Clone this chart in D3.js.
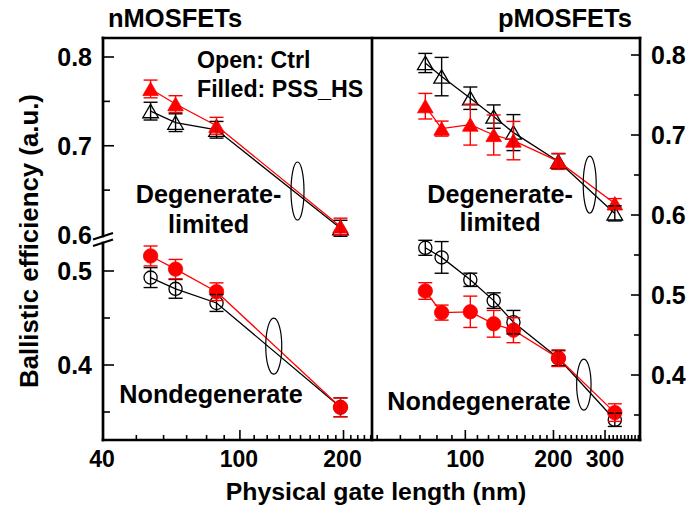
<!DOCTYPE html>
<html>
<head>
<meta charset="utf-8">
<script src="https://cdn.jsdelivr.net/npm/d3@7"></script>
<style>
  html, body { margin: 0; padding: 0; background: #fff; }
  svg { display: block; }
  text { font-family: "Liberation Sans", Arial, sans-serif; font-weight: bold; fill: #000; }
</style>
</head>
<body>
<svg id="chart" width="689" height="511"></svg>
<script>
// ---- nMOSFET data (gate length in nm, ballistic efficiency in a.u.) ----
const nGate = [55, 65, 85.5, 196];
const nTriCtrl = [0.739, 0.726, 0.718, 0.607];
const nTriCtrlErr = [0.010, 0.010, 0.0094, 0.009];
const nTriPss = [0.764, 0.747, 0.7225, 0.609];
const nTriPssErr = [0.010, 0.0094, 0.0095, 0.0094];
const nCirCtrl = [0.493, 0.481, 0.466, 0.355];
const nCirCtrlErr = [0.0106, 0.010, 0.009, 0.010];
const nCirPss = [0.516, 0.502, 0.478, 0.355];
const nCirPssErr = [0.0106, 0.0103, 0.0094, 0.0101];

// ---- pMOSFET data ----
const pGate = [73, 83, 104, 125, 146, 208, 324];
const pTriCtrl = [0.790, 0.773, 0.746, 0.723, 0.703, 0.667, 0.602];
const pTriCtrlErr = [0.012, 0.024, 0.014, 0.0146, 0.0225, 0.0096, 0.0094];
const pTriPss = [0.736, 0.708, 0.713, 0.700, 0.693, 0.667, 0.6145];
const pTriPssErr = [0.016, 0.0094, 0.0256, 0.025, 0.024, 0.010, 0.006];
const pCirCtrl = [0.559, 0.547, 0.519, 0.493, 0.466, 0.421, 0.344];
const pCirCtrlErr = [0.0094, 0.0198, 0.0083, 0.0097, 0.0147, 0.0094, 0.0083];
const pCirPss = [0.505, 0.478, 0.479, 0.464, 0.456, 0.421, 0.353];
const pCirPssErr = [0.0104, 0.0094, 0.0196, 0.0167, 0.0156, 0.0104, 0.011];

// ---- tick labels ----
const nXTickLabels = [40, 100, 200];
const pXTickLabels = [100, 200, 300];
const nYUpperLabels = [0.6, 0.7, 0.8];
const nYLowerLabels = [0.4, 0.5];
const pYLabels = [0.4, 0.5, 0.6, 0.7, 0.8];

const RED = "#ff0000";
const svg = d3.select("#chart");

// plot frame geometry
const frameTop = 38, frameBottom = 440;
const xL0 = 103, xMid = 372, xR1 = 640;
const breakTop = 236, breakBot = 243;

// scales
const xN = d3.scaleLog().domain([40, 242]).range([xL0, xMid]);
const xP = d3.scaleLog().domain([48, 395]).range([xMid, xR1]);
const yNUp = d3.scaleLinear().domain([0.6, 0.8]).range([234.5, 57]);
const yNLow = d3.scaleLinear().domain([0.4, 0.5]).range([365, 271]);
const yP = d3.scaleLinear().domain([0.4, 0.8]).range([375, 55]);

// ---------- marker helpers ----------
const triPath = "M0,-6.8L7.8,6.6L-7.8,6.6Z";

function points(xs, ys, errs, xScale, yScale) {
  return xs.map((x, i) => ({ x: xScale(x), y: yScale(ys[i]), lo: yScale(ys[i] - errs[i]), hi: yScale(ys[i] + errs[i]) }));
}

// connecting line + symbols of one series
function drawMarkers(g, pts, color, shape, filled) {
  g.append("path")
    .attr("d", d3.line().x(d => d.x).y(d => d.y)(pts))
    .attr("fill", "none").attr("stroke", color).attr("stroke-width", 1.3);
  pts.forEach(p => {
    let m;
    if (shape === "tri") {
      m = g.append("path").attr("d", triPath).attr("transform", `translate(${p.x},${p.y})`);
    } else {
      m = g.append("circle").attr("cx", p.x).attr("cy", p.y).attr("r", filled ? 7.2 : 6.6);
    }
    if (filled) m.attr("fill", color).attr("stroke", color).attr("stroke-width", 0.8);
    else m.attr("fill", "none").attr("stroke", color).attr("stroke-width", 1.3);
  });
}

// vertical error bars with caps
function drawErrors(g, pts, color) {
  const eb = g.append("g").attr("stroke", color).attr("stroke-width", 1.4).attr("fill", "none");
  pts.forEach(p => {
    eb.append("line").attr("x1", p.x).attr("x2", p.x).attr("y1", p.lo).attr("y2", p.hi);
    eb.append("line").attr("x1", p.x - 7).attr("x2", p.x + 7).attr("y1", p.lo).attr("y2", p.lo);
    eb.append("line").attr("x1", p.x - 7).attr("x2", p.x + 7).attr("y1", p.hi).attr("y2", p.hi);
  });
}

function drawPanel(groups) {
  const g = svg.append("g");
  groups.forEach(s => drawMarkers(g, s.pts, "#000", s.shape, false, s));
  groups.forEach(s => drawMarkers(g, s.ptsR, RED, s.shape, true));
  groups.forEach(s => drawErrors(g, s.pts, "#000"));
  groups.forEach(s => drawErrors(g, s.ptsR, RED));
}

// ---------- data ----------
drawPanel([
  { shape: "tri", pts: points(nGate, nTriCtrl, nTriCtrlErr, xN, yNUp), ptsR: points(nGate, nTriPss, nTriPssErr, xN, yNUp) },
  { shape: "circ", pts: points(nGate, nCirCtrl, nCirCtrlErr, xN, yNLow), ptsR: points(nGate, nCirPss, nCirPssErr, xN, yNLow) }
]);
drawPanel([
  { shape: "tri", pts: points(pGate, pTriCtrl, pTriCtrlErr, xP, yP), ptsR: points(pGate, pTriPss, pTriPssErr, xP, yP) },
  { shape: "circ", pts: points(pGate, pCirCtrl, pCirCtrlErr, xP, yP), ptsR: points(pGate, pCirPss, pCirPssErr, xP, yP) }
]);

// ---------- grouping ellipses ----------
const ell = svg.append("g").attr("fill", "none").attr("stroke", "#000").attr("stroke-width", 1.2);
ell.append("ellipse").attr("cx", xN(147)).attr("cy", yNUp(0.649)).attr("rx", 6.5).attr("ry", 29);
ell.append("ellipse").attr("cx", xN(125.4)).attr("cy", yNLow(0.42)).attr("rx", 8).attr("ry", 28);
ell.append("ellipse").attr("cx", xP(266)).attr("cy", yP(0.638)).attr("rx", 6.5).attr("ry", 28.5);
ell.append("ellipse").attr("cx", xP(254)).attr("cy", yP(0.388)).attr("rx", 7.2).attr("ry", 25.5);

// ---------- frames and axes ----------
const frame = svg.append("g").attr("stroke", "#000").attr("stroke-width", 2.7).attr("fill", "none").attr("stroke-linecap", "square");
frame.append("line").attr("x1", xL0).attr("x2", xR1).attr("y1", frameTop).attr("y2", frameTop);
frame.append("line").attr("x1", xL0).attr("x2", xR1).attr("y1", frameBottom).attr("y2", frameBottom);
frame.append("line").attr("x1", xMid).attr("x2", xMid).attr("y1", frameTop).attr("y2", frameBottom);
frame.append("line").attr("x1", xR1).attr("x2", xR1).attr("y1", frameTop).attr("y2", frameBottom);
frame.append("line").attr("x1", xL0).attr("x2", xL0).attr("y1", frameTop).attr("y2", breakTop);
frame.append("line").attr("x1", xL0).attr("x2", xL0).attr("y1", breakBot).attr("y2", frameBottom);
// axis break marks
const brk = svg.append("g").attr("stroke", "#000").attr("stroke-width", 2.2);
brk.append("line").attr("x1", xL0 - 10).attr("y1", breakTop + 3.5).attr("x2", xL0 + 10).attr("y2", breakTop - 3);
brk.append("line").attr("x1", xL0 - 10).attr("y1", breakBot + 3).attr("x2", xL0 + 10).attr("y2", breakBot - 3.5);

// tick helpers
const ticks = svg.append("g").attr("stroke", "#000").attr("stroke-width", 1.6);
function xTicks(scale, lo, hi, majors) {
  for (let v = lo; v <= hi; v += 10) {
    const x = scale(v);
    if (x <= scale.range()[0] + 1 || x >= scale.range()[1] - 1) continue;
    const len = majors.includes(v) ? 10 : 5;
    ticks.append("line").attr("x1", x).attr("x2", x).attr("y1", frameBottom).attr("y2", frameBottom - len);
  }
}
xTicks(xN, 40, 240, [100, 200]);
xTicks(xP, 50, 390, [100, 200, 300]);

function yTicks(scale, vals, x0, dir, len) {
  vals.forEach(v => {
    const y = scale(v);
    ticks.append("line").attr("x1", x0).attr("x2", x0 + dir * len).attr("y1", y).attr("y2", y);
  });
}
yTicks(yNUp, [0.7, 0.8], xL0, 1, 11);
yTicks(yNUp, [0.65, 0.75], xL0, 1, 7);
yTicks(yNLow, [0.4, 0.5], xL0, 1, 11);
yTicks(yNLow, [0.35, 0.45], xL0, 1, 7);
yTicks(yP, [0.4, 0.5, 0.6, 0.7, 0.8], xR1, -1, 9);
yTicks(yP, [0.35, 0.45, 0.55, 0.65, 0.75], xR1, -1, 6);

// tick labels
const lab = svg.append("g");
const fmt = d3.format(".1f");
nYUpperLabels.forEach(v => lab.append("text").attr("x", 92).attr("y", yNUp(v)).attr("dy", "0.36em")
  .attr("text-anchor", "end").attr("font-size", 25).text(fmt(v)));
nYLowerLabels.forEach(v => lab.append("text").attr("x", 92).attr("y", yNLow(v)).attr("dy", "0.36em")
  .attr("text-anchor", "end").attr("font-size", 25).text(fmt(v)));
pYLabels.forEach(v => lab.append("text").attr("x", 651).attr("y", yP(v)).attr("dy", "0.36em")
  .attr("text-anchor", "start").attr("font-size", 25).text(fmt(v)));
nXTickLabels.forEach(v => lab.append("text").attr("x", xN(v) - 1).attr("y", 467)
  .attr("text-anchor", "middle").attr("font-size", 23).text(v));
pXTickLabels.forEach(v => lab.append("text").attr("x", xP(v)).attr("y", 467)
  .attr("text-anchor", "middle").attr("font-size", 23).text(v));

// titles and annotations
function txt(x, y, s, size, anchor) {
  return svg.append("text").attr("x", x).attr("y", y).attr("font-size", size)
    .attr("text-anchor", anchor || "start").text(s);
}
txt(108, 27, "nMOSFETs", 25.5);
txt(632, 27, "pMOSFETs", 25.5, "end");
txt(197, 68, "Open: Ctrl", 23.2);
txt(197, 97, "Filled: PSS_HS", 23.2);
txt(208.5, 203, "Degenerate-", 25.2, "middle");
txt(208.5, 233, "limited", 25.2, "middle");
txt(211, 403, "Nondegenerate", 25.2, "middle");
txt(500, 203, "Degenerate-", 25.2, "middle");
txt(500, 231, "limited", 25.2, "middle");
txt(479, 410, "Nondegenerate", 25.2, "middle");

// axis titles
txt(376, 500, "Physical gate length (nm)", 24.8, "middle");
svg.append("text").attr("transform", "translate(38,241) rotate(-90)")
  .attr("text-anchor", "middle").attr("font-size", 25.8).text("Ballistic efficiency (a.u.)");
</script>
</body>
</html>
